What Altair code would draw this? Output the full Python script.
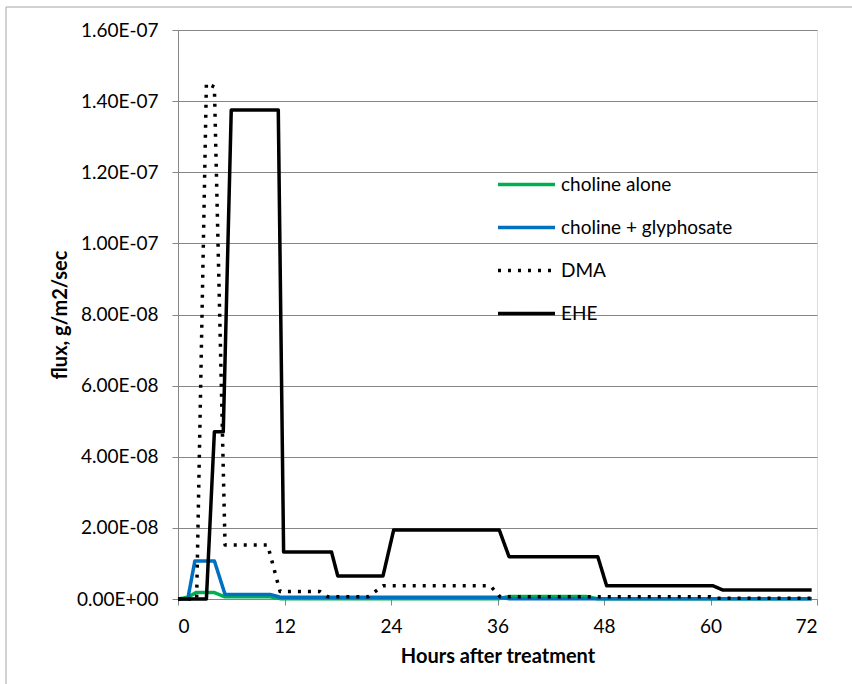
import altair as alt
import pandas as pd

# ---- data ----
series_names = ["choline alone", "choline + glyphosate", "DMA", "EHE"]

green_t = [0, 1.1, 2.0, 4.1, 5.3, 10.4, 11.5, 36.2, 37.3, 46.0, 47.3, 71.4]
green_v = [0, 0.5e-9, 1.8e-9, 1.8e-9, 0.6e-9, 0.6e-9, 0.1e-9, 0.1e-9, 0.7e-9, 0.7e-9, 0.05e-9, 0.05e-9]

blue_t = [0, 1.1, 1.9, 4.1, 5.3, 10.4, 11.5, 36.2, 37.3, 71.4]
blue_v = [0, 0, 1.07e-8, 1.07e-8, 1.3e-9, 1.3e-9, 0.5e-9, 0.5e-9, 0.1e-9, 0.1e-9]

dma_t = [0, 2.1, 3.2, 4.1, 5.3, 10.1, 11.5, 16.0, 16.9, 21.4, 23.1, 35.2, 36.3, 60.0, 60.6, 71.4]
dma_v = [0, 0, 1.45e-7, 1.44e-7, 1.52e-8, 1.52e-8, 2.1e-9, 2.1e-9, 0.6e-9, 0.6e-9,
         3.7e-9, 3.7e-9, 0.6e-9, 0.6e-9, 0.2e-9, 0.2e-9]

ehe_t = [0, 3.2, 4.1, 5.1, 6.0, 11.3, 11.9, 17.3, 18.0, 23.1, 24.3, 36.2, 37.3, 47.3, 48.3, 60.3, 61.4, 71.4]
ehe_v = [0, 0, 4.7e-8, 4.7e-8, 1.375e-7, 1.375e-7, 1.32e-8, 1.32e-8, 6.5e-9, 6.5e-9,
         1.94e-8, 1.94e-8, 1.19e-8, 1.19e-8, 3.7e-9, 3.7e-9, 2.5e-9, 2.5e-9]

x_ticks = [0, 12, 24, 36, 48, 60, 72]
y_ticks = [0, 2e-8, 4e-8, 6e-8, 8e-8, 1e-7, 1.2e-7, 1.4e-7, 1.6e-7]

rows = []
for name, ts, vs in [(series_names[0], green_t, green_v), (series_names[1], blue_t, blue_v),
                     (series_names[2], dma_t, dma_v), (series_names[3], ehe_t, ehe_v)]:
    for t, v in zip(ts, vs):
        rows.append({"series": name, "hours": t, "flux": v})
df = pd.DataFrame(rows)

FONT = "Lato"
GRID = "#868686"

color_scale = alt.Scale(domain=series_names, range=["#00B050", "#0070C0", "#000000", "#000000"])
dash_scale = alt.Scale(domain=series_names, range=[[1, 0], [1, 0], [3, 7], [1, 0]])
width_scale = alt.Scale(domain=series_names, range=[3.5, 3.5, 4, 4.5])

legend = alt.Legend(title=None, orient="none", legendX=318, legendY=124,
                    symbolType="stroke", symbolSize=3249, labelFont=FONT, labelFontSize=19,
                    labelColor="black", rowPadding=2, labelOffset=4, padding=0, labelLimit=400)

x_enc = alt.X("hours:Q", scale=alt.Scale(domain=[0, 72], nice=False),
              axis=alt.Axis(values=x_ticks, title="Hours after treatment", grid=False,
                            labelFont=FONT, labelFontSize=19, labelColor="black", labelPadding=12,
                            titleFont=FONT, titleFontSize=20, titleFontWeight="bold",
                            titleColor="black", titlePadding=10,
                            domainColor=GRID, tickColor=GRID, tickSize=6))
y_enc = alt.Y("flux:Q", scale=alt.Scale(domain=[0, 1.6e-7], nice=False),
              axis=alt.Axis(values=y_ticks, title="flux, g/m2/sec", grid=True, gridColor=GRID,
                            labelExpr="upper(replace(replace(format(datum.value, '.2e'), 'e-', 'e-0'), 'e+', 'e+0'))",
                            labelFont=FONT, labelFontSize=19, labelColor="black", labelPadding=14,
                            titleFont=FONT, titleFontSize=20, titleFontWeight="bold",
                            titleColor="black", titleX=-118, titleBaseline="middle",
                            domainColor=GRID, tickColor=GRID, tickSize=6))


def series_layer(name):
    return alt.Chart(df).transform_filter(alt.datum.series == name).mark_line(
        strokeJoin="round").encode(
        x=x_enc, y=y_enc,
        color=alt.Color("series:N", scale=color_scale, legend=legend),
        strokeDash=alt.StrokeDash("series:N", scale=dash_scale, legend=legend),
        strokeWidth=alt.StrokeWidth("series:N", scale=width_scale, legend=legend),
    )


border = alt.Chart(pd.DataFrame({"a": [0]})).mark_rect(
    fill="white", fillOpacity=0, stroke="#a6a6a6", strokeWidth=1, clip=False).encode(
    x=alt.value(-172), x2=alt.value(700), y=alt.value(-23), y2=alt.value(700))

chart = alt.layer(border, *[series_layer(n) for n in series_names]).properties(
    width=639, height=569,
    padding={"left": 178, "top": 30, "right": 35, "bottom": 85},
    autosize=alt.AutoSizeParams(type="none"),
).configure_view(stroke=None).configure(background="white")

chart.save("out.html", embed_options={"renderer": "svg", "actions": False})
